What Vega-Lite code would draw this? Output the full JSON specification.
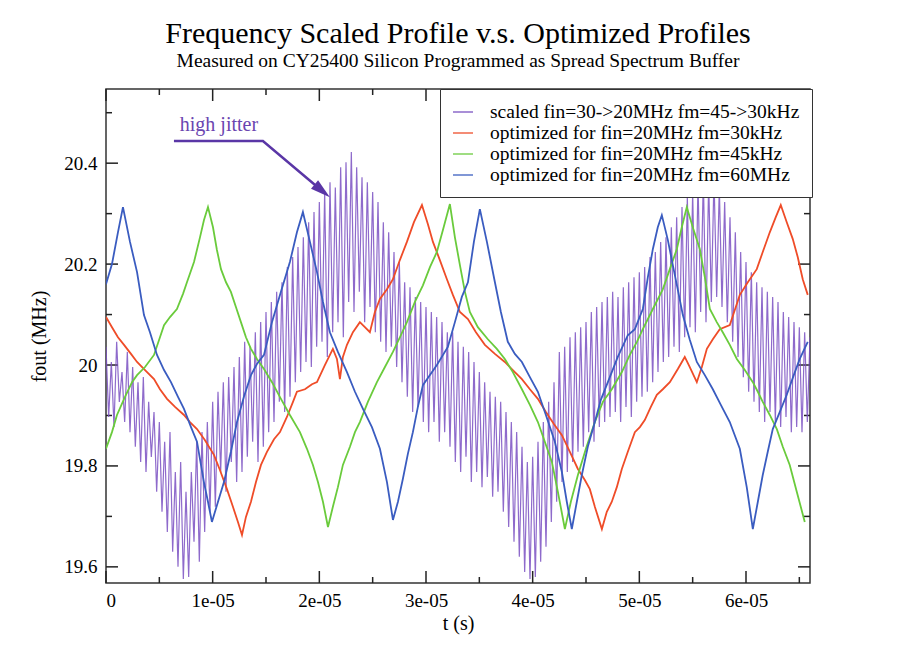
{
  "$schema": "https://vega.github.io/schema/vega-lite/v6.json",
  "width": 704,
  "height": 494,
  "autosize": {"type": "none"},
  "padding": {"left": 106, "top": 89, "right": 104, "bottom": 70},
  "background": "white",
  "title": {
    "text": "Frequency Scaled Profile v.s. Optimized Profiles",
    "subtitle": "Measured on CY25400 Silicon Programmed as Spread Spectrum Buffer",
    "font": "Liberation Serif", "fontSize": 30, "fontWeight": "normal", "color": "black",
    "subtitleFont": "Liberation Serif", "subtitleFontSize": 19.5, "subtitleColor": "black",
    "anchor": "middle", "frame": "group", "offset": 18, "subtitlePadding": 3
  },
  "config": {
    "view": {"stroke": "#333", "strokeWidth": 1.5},
    "axis": {
      "grid": false, "domain": false,
      "labelFont": "Liberation Serif", "titleFont": "Liberation Serif",
      "labelFontSize": 19, "titleFontSize": 20, "labelColor": "black", "titleColor": "black",
      "titleFontWeight": "normal"
    },
    "legend": {
      "orient": "none", "legendX": 334, "legendY": 0,
      "strokeColor": "#333", "fillColor": "white", "padding": 12,
      "symbolType": "stroke", "symbolSize": 400, "symbolStrokeWidth": 1.5,
      "labelFont": "Liberation Serif", "labelFontSize": 19.5, "labelColor": "black",
      "labelOffset": 16, "rowPadding": 0, "labelLimit": 400
    }
  },
  "datasets": {
    "scaled": [
      {"t":0,"f":20.036},{"t":0.025e-5,"f":19.897},{"t":0.05e-5,"f":20.006},{"t":0.075e-5,"f":19.877},{"t":0.1e-5,"f":20.046},{"t":0.125e-5,"f":19.927},{"t":0.15e-5,"f":19.986},{"t":0.175e-5,"f":19.887},{"t":0.2e-5,"f":20.026},{"t":0.225e-5,"f":19.867},
      {"t":0.25e-5,"f":19.996},{"t":0.275e-5,"f":19.838},{"t":0.3e-5,"f":19.966},{"t":0.325e-5,"f":19.808},{"t":0.35e-5,"f":19.976},{"t":0.375e-5,"f":19.788},{"t":0.4e-5,"f":19.927},{"t":0.425e-5,"f":19.818},{"t":0.45e-5,"f":19.907},{"t":0.475e-5,"f":19.749},
      {"t":0.5e-5,"f":19.887},{"t":0.525e-5,"f":19.709},{"t":0.55e-5,"f":19.848},{"t":0.575e-5,"f":19.669},{"t":0.6e-5,"f":19.867},{"t":0.625e-5,"f":19.630},{"t":0.65e-5,"f":19.788},{"t":0.675e-5,"f":19.600},{"t":0.7e-5,"f":19.808},{"t":0.725e-5,"f":19.576},
      {"t":0.75e-5,"f":19.749},{"t":0.775e-5,"f":19.580},{"t":0.8e-5,"f":19.788},{"t":0.825e-5,"f":19.650},{"t":0.85e-5,"f":19.848},{"t":0.875e-5,"f":19.610},{"t":0.9e-5,"f":19.867},{"t":0.925e-5,"f":19.669},{"t":0.95e-5,"f":19.887},{"t":0.975e-5,"f":19.709},
      {"t":1.0e-5,"f":19.927},{"t":1.025e-5,"f":19.719},{"t":1.05e-5,"f":19.947},{"t":1.075e-5,"f":19.788},{"t":1.1e-5,"f":19.966},{"t":1.125e-5,"f":19.749},{"t":1.15e-5,"f":19.976},{"t":1.175e-5,"f":19.808},{"t":1.2e-5,"f":19.996},{"t":1.225e-5,"f":19.768},
      {"t":1.25e-5,"f":20.016},{"t":1.275e-5,"f":19.788},{"t":1.3e-5,"f":20.046},{"t":1.325e-5,"f":19.818},{"t":1.35e-5,"f":20.036},{"t":1.375e-5,"f":19.848},{"t":1.4e-5,"f":20.065},{"t":1.425e-5,"f":19.808},{"t":1.45e-5,"f":20.085},{"t":1.475e-5,"f":19.838},
      {"t":1.5e-5,"f":20.105},{"t":1.525e-5,"f":19.867},{"t":1.55e-5,"f":20.125},{"t":1.575e-5,"f":19.887},{"t":1.6e-5,"f":20.145},{"t":1.625e-5,"f":19.927},{"t":1.65e-5,"f":20.164},{"t":1.675e-5,"f":19.907},{"t":1.7e-5,"f":20.194},{"t":1.725e-5,"f":19.937},
      {"t":1.75e-5,"f":20.214},{"t":1.775e-5,"f":19.966},{"t":1.8e-5,"f":20.234},{"t":1.825e-5,"f":19.986},{"t":1.85e-5,"f":20.253},{"t":1.875e-5,"f":20.006},{"t":1.9e-5,"f":20.283},{"t":1.925e-5,"f":19.996},{"t":1.95e-5,"f":20.303},{"t":1.975e-5,"f":20.036},
      {"t":2.0e-5,"f":20.323},{"t":2.025e-5,"f":20.046},{"t":2.05e-5,"f":20.343},{"t":2.075e-5,"f":20.016},{"t":2.1e-5,"f":20.362},{"t":2.125e-5,"f":20.065},{"t":2.15e-5,"f":20.352},{"t":2.175e-5,"f":20.085},{"t":2.2e-5,"f":20.392},{"t":2.225e-5,"f":20.055},
      {"t":2.25e-5,"f":20.402},{"t":2.275e-5,"f":20.125},{"t":2.3e-5,"f":20.422},{"t":2.325e-5,"f":20.105},{"t":2.35e-5,"f":20.392},{"t":2.375e-5,"f":20.145},{"t":2.4e-5,"f":20.372},{"t":2.425e-5,"f":20.085},{"t":2.45e-5,"f":20.362},{"t":2.475e-5,"f":20.115},
      {"t":2.5e-5,"f":20.343},{"t":2.525e-5,"f":20.065},{"t":2.55e-5,"f":20.323},{"t":2.575e-5,"f":20.046},{"t":2.6e-5,"f":20.283},{"t":2.625e-5,"f":20.026},{"t":2.65e-5,"f":20.263},{"t":2.675e-5,"f":20.036},{"t":2.7e-5,"f":20.224},{"t":2.725e-5,"f":19.996},
      {"t":2.75e-5,"f":20.204},{"t":2.775e-5,"f":19.966},{"t":2.8e-5,"f":20.164},{"t":2.825e-5,"f":19.937},{"t":2.85e-5,"f":20.154},{"t":2.875e-5,"f":19.907},{"t":2.9e-5,"f":20.135},{"t":2.925e-5,"f":19.917},{"t":2.95e-5,"f":20.125},{"t":2.975e-5,"f":19.887},
      {"t":3.0e-5,"f":20.115},{"t":3.025e-5,"f":19.867},{"t":3.05e-5,"f":20.105},{"t":3.075e-5,"f":19.887},{"t":3.1e-5,"f":20.095},{"t":3.125e-5,"f":19.848},{"t":3.15e-5,"f":20.085},{"t":3.175e-5,"f":19.867},{"t":3.2e-5,"f":20.065},{"t":3.225e-5,"f":19.838},
      {"t":3.25e-5,"f":20.065},{"t":3.275e-5,"f":19.808},{"t":3.3e-5,"f":20.046},{"t":3.325e-5,"f":19.788},{"t":3.35e-5,"f":20.036},{"t":3.375e-5,"f":19.818},{"t":3.4e-5,"f":20.026},{"t":3.425e-5,"f":19.768},{"t":3.45e-5,"f":20.006},{"t":3.475e-5,"f":19.788},
      {"t":3.5e-5,"f":19.986},{"t":3.525e-5,"f":19.758},{"t":3.55e-5,"f":19.966},{"t":3.575e-5,"f":19.778},{"t":3.6e-5,"f":19.947},{"t":3.625e-5,"f":19.739},{"t":3.65e-5,"f":19.937},{"t":3.675e-5,"f":19.749},{"t":3.7e-5,"f":19.927},{"t":3.725e-5,"f":19.709},
      {"t":3.75e-5,"f":19.907},{"t":3.775e-5,"f":19.679},{"t":3.8e-5,"f":19.887},{"t":3.825e-5,"f":19.650},{"t":3.85e-5,"f":19.867},{"t":3.875e-5,"f":19.620},{"t":3.9e-5,"f":19.838},{"t":3.925e-5,"f":19.590},{"t":3.95e-5,"f":19.808},{"t":3.975e-5,"f":19.576},
      {"t":4.0e-5,"f":19.818},{"t":4.025e-5,"f":19.580},{"t":4.05e-5,"f":19.848},{"t":4.075e-5,"f":19.610},{"t":4.1e-5,"f":19.887},{"t":4.125e-5,"f":19.640},{"t":4.15e-5,"f":19.927},{"t":4.175e-5,"f":19.689},{"t":4.2e-5,"f":19.966},{"t":4.225e-5,"f":19.729},
      {"t":4.25e-5,"f":20.026},{"t":4.275e-5,"f":19.768},{"t":4.3e-5,"f":20.036},{"t":4.325e-5,"f":19.788},{"t":4.35e-5,"f":20.055},{"t":4.375e-5,"f":19.808},{"t":4.4e-5,"f":20.065},{"t":4.425e-5,"f":19.828},{"t":4.45e-5,"f":20.075},{"t":4.475e-5,"f":19.838},
      {"t":4.5e-5,"f":20.085},{"t":4.525e-5,"f":19.867},{"t":4.55e-5,"f":20.105},{"t":4.575e-5,"f":19.848},{"t":4.6e-5,"f":20.115},{"t":4.625e-5,"f":19.877},{"t":4.65e-5,"f":20.125},{"t":4.675e-5,"f":19.887},{"t":4.7e-5,"f":20.135},{"t":4.725e-5,"f":19.897},
      {"t":4.75e-5,"f":20.145},{"t":4.775e-5,"f":19.907},{"t":4.8e-5,"f":20.135},{"t":4.825e-5,"f":19.887},{"t":4.85e-5,"f":20.154},{"t":4.875e-5,"f":19.917},{"t":4.9e-5,"f":20.164},{"t":4.925e-5,"f":19.897},{"t":4.95e-5,"f":20.174},{"t":4.975e-5,"f":19.927},
      {"t":5.0e-5,"f":20.184},{"t":5.025e-5,"f":19.937},{"t":5.05e-5,"f":20.194},{"t":5.075e-5,"f":19.947},{"t":5.1e-5,"f":20.214},{"t":5.125e-5,"f":19.966},{"t":5.15e-5,"f":20.224},{"t":5.175e-5,"f":19.986},{"t":5.2e-5,"f":20.244},{"t":5.225e-5,"f":20.006},
      {"t":5.25e-5,"f":20.253},{"t":5.275e-5,"f":20.016},{"t":5.3e-5,"f":20.273},{"t":5.325e-5,"f":20.036},{"t":5.35e-5,"f":20.293},{"t":5.375e-5,"f":20.026},{"t":5.4e-5,"f":20.313},{"t":5.425e-5,"f":20.055},{"t":5.45e-5,"f":20.333},{"t":5.475e-5,"f":20.075},
      {"t":5.5e-5,"f":20.343},{"t":5.525e-5,"f":20.065},{"t":5.55e-5,"f":20.362},{"t":5.575e-5,"f":20.105},{"t":5.6e-5,"f":20.372},{"t":5.625e-5,"f":20.085},{"t":5.65e-5,"f":20.362},{"t":5.675e-5,"f":20.125},{"t":5.7e-5,"f":20.372},{"t":5.725e-5,"f":20.135},
      {"t":5.75e-5,"f":20.352},{"t":5.775e-5,"f":20.115},{"t":5.8e-5,"f":20.323},{"t":5.825e-5,"f":20.085},{"t":5.85e-5,"f":20.293},{"t":5.875e-5,"f":20.046},{"t":5.9e-5,"f":20.263},{"t":5.925e-5,"f":20.016},{"t":5.95e-5,"f":20.224},{"t":5.975e-5,"f":19.976},
      {"t":6.0e-5,"f":20.204},{"t":6.025e-5,"f":19.947},{"t":6.05e-5,"f":20.184},{"t":6.075e-5,"f":19.927},{"t":6.1e-5,"f":20.164},{"t":6.125e-5,"f":19.907},{"t":6.15e-5,"f":20.154},{"t":6.175e-5,"f":19.887},{"t":6.2e-5,"f":20.145},{"t":6.225e-5,"f":19.907},
      {"t":6.25e-5,"f":20.135},{"t":6.275e-5,"f":19.887},{"t":6.3e-5,"f":20.125},{"t":6.325e-5,"f":19.877},{"t":6.35e-5,"f":20.105},{"t":6.375e-5,"f":19.897},{"t":6.4e-5,"f":20.095},{"t":6.425e-5,"f":19.867},{"t":6.45e-5,"f":20.085},{"t":6.475e-5,"f":19.877},
      {"t":6.5e-5,"f":20.075},{"t":6.525e-5,"f":19.867},{"t":6.55e-5,"f":20.065},{"t":6.575e-5,"f":19.887},{"t":6.6e-5,"f":20.055}
    ],
    "opt30": [
      {"t":0,"f":20.095},{"t":0.056e-5,"f":20.075},{"t":0.112e-5,"f":20.055},{"t":0.169e-5,"f":20.040},{"t":0.234e-5,"f":20.022},{"t":0.291e-5,"f":20.006},{"t":0.366e-5,"f":19.990},{"t":0.450e-5,"f":19.972},{"t":0.506e-5,"f":19.952},{"t":0.572e-5,"f":19.933},
      {"t":0.647e-5,"f":19.917},{"t":0.731e-5,"f":19.901},{"t":0.787e-5,"f":19.887},{"t":0.853e-5,"f":19.873},{"t":0.928e-5,"f":19.851},{"t":1.012e-5,"f":19.822},{"t":1.068e-5,"f":19.792},{"t":1.134e-5,"f":19.754},{"t":1.190e-5,"f":19.719},{"t":1.237e-5,"f":19.689},
      {"t":1.275e-5,"f":19.663},{"t":1.312e-5,"f":19.699},{"t":1.359e-5,"f":19.729},{"t":1.406e-5,"f":19.768},{"t":1.453e-5,"f":19.802},{"t":1.509e-5,"f":19.828},{"t":1.575e-5,"f":19.853},{"t":1.631e-5,"f":19.867},{"t":1.696e-5,"f":19.897},{"t":1.753e-5,"f":19.927},
      {"t":1.790e-5,"f":19.947},{"t":1.865e-5,"f":19.952},{"t":1.931e-5,"f":19.962},{"t":1.978e-5,"f":19.966},{"t":2.052e-5,"f":20.000},{"t":2.127e-5,"f":20.032},{"t":2.165e-5,"f":20.012},{"t":2.193e-5,"f":19.972},{"t":2.221e-5,"f":20.016},{"t":2.259e-5,"f":20.040},
      {"t":2.315e-5,"f":20.065},{"t":2.380e-5,"f":20.085},{"t":2.427e-5,"f":20.075},{"t":2.474e-5,"f":20.065},{"t":2.521e-5,"f":20.105},{"t":2.568e-5,"f":20.131},{"t":2.634e-5,"f":20.150},{"t":2.690e-5,"f":20.170},{"t":2.755e-5,"f":20.208},{"t":2.821e-5,"f":20.244},
      {"t":2.887e-5,"f":20.283},{"t":2.962e-5,"f":20.317},{"t":3.018e-5,"f":20.279},{"t":3.065e-5,"f":20.244},{"t":3.130e-5,"f":20.208},{"t":3.196e-5,"f":20.170},{"t":3.252e-5,"f":20.139},{"t":3.318e-5,"f":20.105},{"t":3.393e-5,"f":20.091},{"t":3.468e-5,"f":20.065},
      {"t":3.552e-5,"f":20.040},{"t":3.646e-5,"f":20.022},{"t":3.739e-5,"f":20.006},{"t":3.814e-5,"f":19.990},{"t":3.899e-5,"f":19.972},{"t":3.974e-5,"f":19.952},{"t":4.049e-5,"f":19.933},{"t":4.124e-5,"f":19.907},{"t":4.199e-5,"f":19.883},{"t":4.274e-5,"f":19.861},
      {"t":4.349e-5,"f":19.828},{"t":4.424e-5,"f":19.794},{"t":4.489e-5,"f":19.772},{"t":4.536e-5,"f":19.754},{"t":4.583e-5,"f":19.719},{"t":4.649e-5,"f":19.675},{"t":4.695e-5,"f":19.709},{"t":4.742e-5,"f":19.729},{"t":4.789e-5,"f":19.758},{"t":4.836e-5,"f":19.794},
      {"t":4.892e-5,"f":19.828},{"t":4.958e-5,"f":19.867},{"t":5.005e-5,"f":19.877},{"t":5.051e-5,"f":19.891},{"t":5.108e-5,"f":19.917},{"t":5.164e-5,"f":19.941},{"t":5.220e-5,"f":19.952},{"t":5.286e-5,"f":19.966},{"t":5.361e-5,"f":19.992},{"t":5.426e-5,"f":20.016},
      {"t":5.473e-5,"f":19.996},{"t":5.539e-5,"f":19.966},{"t":5.586e-5,"f":19.996},{"t":5.633e-5,"f":20.032},{"t":5.689e-5,"f":20.051},{"t":5.754e-5,"f":20.071},{"t":5.848e-5,"f":20.079},{"t":5.895e-5,"f":20.109},{"t":5.942e-5,"f":20.139},{"t":6.017e-5,"f":20.164},
      {"t":6.101e-5,"f":20.190},{"t":6.157e-5,"f":20.224},{"t":6.223e-5,"f":20.263},{"t":6.279e-5,"f":20.293},{"t":6.326e-5,"f":20.317},{"t":6.382e-5,"f":20.283},{"t":6.438e-5,"f":20.250},{"t":6.485e-5,"f":20.214},{"t":6.532e-5,"f":20.170},{"t":6.579e-5,"f":20.139}
    ],
    "opt45": [
      {"t":0,"f":19.834},{"t":0.056e-5,"f":19.867},{"t":0.103e-5,"f":19.901},{"t":0.178e-5,"f":19.937},{"t":0.244e-5,"f":19.966},{"t":0.291e-5,"f":19.980},{"t":0.366e-5,"f":19.996},{"t":0.450e-5,"f":20.020},{"t":0.506e-5,"f":20.055},{"t":0.544e-5,"f":20.079},
      {"t":0.600e-5,"f":20.095},{"t":0.665e-5,"f":20.111},{"t":0.722e-5,"f":20.141},{"t":0.759e-5,"f":20.164},{"t":0.825e-5,"f":20.204},{"t":0.881e-5,"f":20.253},{"t":0.918e-5,"f":20.287},{"t":0.956e-5,"f":20.313},{"t":1.003e-5,"f":20.273},{"t":1.040e-5,"f":20.228},
      {"t":1.078e-5,"f":20.190},{"t":1.125e-5,"f":20.164},{"t":1.171e-5,"f":20.145},{"t":1.218e-5,"f":20.115},{"t":1.265e-5,"f":20.085},{"t":1.312e-5,"f":20.055},{"t":1.359e-5,"f":20.032},{"t":1.415e-5,"f":20.012},{"t":1.481e-5,"f":19.992},{"t":1.556e-5,"f":19.966},
      {"t":1.640e-5,"f":19.933},{"t":1.724e-5,"f":19.901},{"t":1.818e-5,"f":19.867},{"t":1.884e-5,"f":19.834},{"t":1.940e-5,"f":19.802},{"t":1.987e-5,"f":19.768},{"t":2.034e-5,"f":19.729},{"t":2.081e-5,"f":19.679},{"t":2.127e-5,"f":19.719},{"t":2.174e-5,"f":19.758},
      {"t":2.221e-5,"f":19.802},{"t":2.287e-5,"f":19.838},{"t":2.334e-5,"f":19.867},{"t":2.380e-5,"f":19.887},{"t":2.455e-5,"f":19.927},{"t":2.540e-5,"f":19.966},{"t":2.615e-5,"f":19.996},{"t":2.690e-5,"f":20.026},{"t":2.755e-5,"f":20.055},{"t":2.821e-5,"f":20.085},
      {"t":2.896e-5,"f":20.125},{"t":2.971e-5,"f":20.158},{"t":3.037e-5,"f":20.194},{"t":3.102e-5,"f":20.224},{"t":3.158e-5,"f":20.267},{"t":3.224e-5,"f":20.319},{"t":3.271e-5,"f":20.253},{"t":3.318e-5,"f":20.198},{"t":3.365e-5,"f":20.145},{"t":3.411e-5,"f":20.105},
      {"t":3.486e-5,"f":20.075},{"t":3.580e-5,"f":20.051},{"t":3.664e-5,"f":20.032},{"t":3.739e-5,"f":20.012},{"t":3.814e-5,"f":19.986},{"t":3.899e-5,"f":19.952},{"t":3.974e-5,"f":19.921},{"t":4.049e-5,"f":19.887},{"t":4.114e-5,"f":19.848},{"t":4.180e-5,"f":19.808},
      {"t":4.236e-5,"f":19.749},{"t":4.302e-5,"f":19.675},{"t":4.358e-5,"f":19.729},{"t":4.424e-5,"f":19.782},{"t":4.499e-5,"f":19.834},{"t":4.583e-5,"f":19.887},{"t":4.658e-5,"f":19.927},{"t":4.742e-5,"f":19.952},{"t":4.836e-5,"f":19.986},{"t":4.911e-5,"f":20.020},
      {"t":4.977e-5,"f":20.046},{"t":5.033e-5,"f":20.071},{"t":5.127e-5,"f":20.111},{"t":5.220e-5,"f":20.150},{"t":5.286e-5,"f":20.190},{"t":5.352e-5,"f":20.230},{"t":5.398e-5,"f":20.273},{"t":5.445e-5,"f":20.313},{"t":5.501e-5,"f":20.273},{"t":5.567e-5,"f":20.230},
      {"t":5.614e-5,"f":20.174},{"t":5.661e-5,"f":20.111},{"t":5.726e-5,"f":20.085},{"t":5.782e-5,"f":20.065},{"t":5.848e-5,"f":20.040},{"t":5.914e-5,"f":20.012},{"t":5.989e-5,"f":19.990},{"t":6.064e-5,"f":19.966},{"t":6.111e-5,"f":19.947},{"t":6.157e-5,"f":19.927},
      {"t":6.223e-5,"f":19.901},{"t":6.289e-5,"f":19.873},{"t":6.345e-5,"f":19.838},{"t":6.410e-5,"f":19.802},{"t":6.476e-5,"f":19.749},{"t":6.551e-5,"f":19.689}
    ],
    "opt60": [
      {"t":0,"f":20.160},{"t":0.056e-5,"f":20.200},{"t":0.112e-5,"f":20.263},{"t":0.159e-5,"f":20.313},{"t":0.225e-5,"f":20.244},{"t":0.291e-5,"f":20.184},{"t":0.356e-5,"f":20.099},{"t":0.412e-5,"f":20.065},{"t":0.478e-5,"f":20.020},{"t":0.544e-5,"f":19.990},
      {"t":0.609e-5,"f":19.966},{"t":0.675e-5,"f":19.937},{"t":0.731e-5,"f":19.913},{"t":0.797e-5,"f":19.877},{"t":0.853e-5,"f":19.848},{"t":0.918e-5,"f":19.768},{"t":0.956e-5,"f":19.729},{"t":0.993e-5,"f":19.689},{"t":1.050e-5,"f":19.729},{"t":1.106e-5,"f":19.768},
      {"t":1.171e-5,"f":19.828},{"t":1.228e-5,"f":19.887},{"t":1.293e-5,"f":19.937},{"t":1.359e-5,"f":19.980},{"t":1.415e-5,"f":20.002},{"t":1.481e-5,"f":20.020},{"t":1.556e-5,"f":20.085},{"t":1.640e-5,"f":20.145},{"t":1.724e-5,"f":20.204},{"t":1.790e-5,"f":20.263},
      {"t":1.846e-5,"f":20.303},{"t":1.912e-5,"f":20.244},{"t":1.978e-5,"f":20.184},{"t":2.034e-5,"f":20.125},{"t":2.099e-5,"f":20.065},{"t":2.174e-5,"f":20.026},{"t":2.259e-5,"f":19.986},{"t":2.334e-5,"f":19.947},{"t":2.409e-5,"f":19.913},{"t":2.493e-5,"f":19.877},
      {"t":2.568e-5,"f":19.834},{"t":2.634e-5,"f":19.768},{"t":2.690e-5,"f":19.693},{"t":2.737e-5,"f":19.729},{"t":2.783e-5,"f":19.774},{"t":2.830e-5,"f":19.824},{"t":2.877e-5,"f":19.867},{"t":2.924e-5,"f":19.917},{"t":2.971e-5,"f":19.960},{"t":3.037e-5,"f":19.980},
      {"t":3.102e-5,"f":20.000},{"t":3.205e-5,"f":20.036},{"t":3.271e-5,"f":20.085},{"t":3.336e-5,"f":20.135},{"t":3.393e-5,"f":20.164},{"t":3.449e-5,"f":20.244},{"t":3.505e-5,"f":20.309},{"t":3.571e-5,"f":20.244},{"t":3.646e-5,"f":20.164},{"t":3.702e-5,"f":20.105},
      {"t":3.767e-5,"f":20.046},{"t":3.833e-5,"f":20.022},{"t":3.899e-5,"f":20.006},{"t":3.974e-5,"f":19.976},{"t":4.049e-5,"f":19.947},{"t":4.124e-5,"f":19.901},{"t":4.208e-5,"f":19.848},{"t":4.274e-5,"f":19.788},{"t":4.320e-5,"f":19.729},{"t":4.367e-5,"f":19.675},
      {"t":4.414e-5,"f":19.729},{"t":4.461e-5,"f":19.782},{"t":4.517e-5,"f":19.838},{"t":4.583e-5,"f":19.887},{"t":4.639e-5,"f":19.931},{"t":4.705e-5,"f":19.966},{"t":4.798e-5,"f":20.016},{"t":4.892e-5,"f":20.059},{"t":4.958e-5,"f":20.071},{"t":5.033e-5,"f":20.111},
      {"t":5.080e-5,"f":20.174},{"t":5.127e-5,"f":20.230},{"t":5.173e-5,"f":20.273},{"t":5.211e-5,"f":20.297},{"t":5.267e-5,"f":20.248},{"t":5.314e-5,"f":20.198},{"t":5.361e-5,"f":20.149},{"t":5.408e-5,"f":20.099},{"t":5.473e-5,"f":20.050},{"t":5.539e-5,"f":20.006},
      {"t":5.614e-5,"f":19.980},{"t":5.689e-5,"f":19.952},{"t":5.764e-5,"f":19.921},{"t":5.848e-5,"f":19.887},{"t":5.942e-5,"f":19.834},{"t":6.007e-5,"f":19.758},{"t":6.064e-5,"f":19.675},{"t":6.111e-5,"f":19.729},{"t":6.157e-5,"f":19.782},{"t":6.204e-5,"f":19.828},
      {"t":6.251e-5,"f":19.873},{"t":6.317e-5,"f":19.907},{"t":6.382e-5,"f":19.941},{"t":6.448e-5,"f":19.980},{"t":6.504e-5,"f":20.012},{"t":6.579e-5,"f":20.046}
    ],
    "xmajor": [{"v":0},{"v":0.00001},{"v":0.00002},{"v":0.00003},{"v":0.00004},{"v":0.00005},{"v":0.00006}],
    "xminor": [{"v":0.000005},{"v":0.000015},{"v":0.000025},{"v":0.000035},{"v":0.000045},{"v":0.000055},{"v":0.000065}],
    "ymajor": [{"v":19.6},{"v":19.8},{"v":20.0},{"v":20.2},{"v":20.4}],
    "yminor": [{"v":19.7},{"v":19.9},{"v":20.1},{"v":20.3},{"v":20.5}],
    "arrow": [
      {"t":0.637e-5,"f":20.444},{"t":1.471e-5,"f":20.444},{"t":2.027e-5,"f":20.345}
    ],
    "arrowhead": [{"t":2.027e-5,"f":20.345}],
    "note": [{"t":1.059e-5,"f":20.463,"label":"high jitter"}]
  },
  "layer": [
    {
      "data": {"name": "xmajor"},
      "mark": {"type": "tick", "orient": "vertical", "color": "#222", "thickness": 1.5, "size": 12, "opacity": 1},
      "encoding": {
        "x": {"field": "v", "type": "quantitative",
          "scale": {"domain": [0, 0.000066], "nice": false, "zero": false},
          "axis": {"orient": "bottom", "values": [0, 0.00001, 0.00002, 0.00003, 0.00004, 0.00005, 0.00006],
            "labelExpr": "datum.value == 0 ? '0' : round(datum.value * 100000) + 'e-05'",
            "ticks": false, "labelPadding": 8, "title": "t (s)", "titlePadding": 3}},
        "y": {"datum": 19.5799, "type": "quantitative",
          "scale": {"domain": [19.568, 20.547], "nice": false, "zero": false},
          "axis": {"orient": "left", "values": [19.6, 19.8, 20, 20.2, 20.4], "format": "~g",
            "ticks": false, "labelPadding": 9, "title": "fout (MHz)", "titlePadding": 14}}
      }
    },
    {
      "data": {"name": "xmajor"},
      "mark": {"type": "tick", "orient": "vertical", "color": "#222", "thickness": 1.5, "size": 12, "opacity": 1},
      "encoding": {
        "x": {"field": "v", "type": "quantitative"},
        "y": {"datum": 20.5351, "type": "quantitative"}
      }
    },
    {
      "data": {"name": "xminor"},
      "mark": {"type": "tick", "orient": "vertical", "color": "#222", "thickness": 1.5, "size": 6, "opacity": 1},
      "encoding": {
        "x": {"field": "v", "type": "quantitative"},
        "y": {"datum": 19.5739, "type": "quantitative"}
      }
    },
    {
      "data": {"name": "xminor"},
      "mark": {"type": "tick", "orient": "vertical", "color": "#222", "thickness": 1.5, "size": 6, "opacity": 1},
      "encoding": {
        "x": {"field": "v", "type": "quantitative"},
        "y": {"datum": 20.5411, "type": "quantitative"}
      }
    },
    {
      "data": {"name": "ymajor"},
      "mark": {"type": "tick", "orient": "horizontal", "color": "#222", "thickness": 1.5, "size": 12, "opacity": 1},
      "encoding": {
        "y": {"field": "v", "type": "quantitative"},
        "x": {"datum": 0.000000562, "type": "quantitative"}
      }
    },
    {
      "data": {"name": "ymajor"},
      "mark": {"type": "tick", "orient": "horizontal", "color": "#222", "thickness": 1.5, "size": 12, "opacity": 1},
      "encoding": {
        "y": {"field": "v", "type": "quantitative"},
        "x": {"datum": 0.000065438, "type": "quantitative"}
      }
    },
    {
      "data": {"name": "yminor"},
      "mark": {"type": "tick", "orient": "horizontal", "color": "#222", "thickness": 1.5, "size": 6, "opacity": 1},
      "encoding": {
        "y": {"field": "v", "type": "quantitative"},
        "x": {"datum": 0.000000281, "type": "quantitative"}
      }
    },
    {
      "data": {"name": "yminor"},
      "mark": {"type": "tick", "orient": "horizontal", "color": "#222", "thickness": 1.5, "size": 6, "opacity": 1},
      "encoding": {
        "y": {"field": "v", "type": "quantitative"},
        "x": {"datum": 0.000065719, "type": "quantitative"}
      }
    },
    {
      "data": {"name": "scaled"},
      "mark": {"type": "line", "strokeWidth": 1.2, "opacity": 0.85, "clip": true},
      "encoding": {
        "x": {"field": "t", "type": "quantitative"},
        "y": {"field": "f", "type": "quantitative"},
        "color": {"datum": "scaled fin=30->20MHz fm=45->30kHz", "type": "nominal",
          "scale": {"domain": ["scaled fin=30->20MHz fm=45->30kHz", "optimized for fin=20MHz fm=30kHz", "optimized for fin=20MHz fm=45kHz", "optimized for fin=20MHz fm=60MHz"],
            "range": ["#7a50c2", "#ef4c28", "#6acb3c", "#3a5cc0"]},
          "legend": {"title": null}}
      }
    },
    {
      "data": {"name": "opt30"},
      "mark": {"type": "line", "strokeWidth": 1.8, "clip": true},
      "encoding": {
        "x": {"field": "t", "type": "quantitative"},
        "y": {"field": "f", "type": "quantitative"},
        "color": {"datum": "optimized for fin=20MHz fm=30kHz", "type": "nominal"}
      }
    },
    {
      "data": {"name": "opt45"},
      "mark": {"type": "line", "strokeWidth": 1.8, "clip": true},
      "encoding": {
        "x": {"field": "t", "type": "quantitative"},
        "y": {"field": "f", "type": "quantitative"},
        "color": {"datum": "optimized for fin=20MHz fm=45kHz", "type": "nominal"}
      }
    },
    {
      "data": {"name": "opt60"},
      "mark": {"type": "line", "strokeWidth": 1.8, "clip": true},
      "encoding": {
        "x": {"field": "t", "type": "quantitative"},
        "y": {"field": "f", "type": "quantitative"},
        "color": {"datum": "optimized for fin=20MHz fm=60MHz", "type": "nominal"}
      }
    },
    {
      "data": {"name": "arrow"},
      "mark": {"type": "line", "color": "#5a36a6", "strokeWidth": 2.5},
      "encoding": {
        "x": {"field": "t", "type": "quantitative"},
        "y": {"field": "f", "type": "quantitative"}
      }
    },
    {
      "data": {"name": "arrowhead"},
      "mark": {"type": "point", "shape": "M0,-1L0.55,1L-0.55,1Z", "size": 400, "angle": 130, "filled": true, "color": "#5a36a6", "opacity": 1},
      "encoding": {
        "x": {"field": "t", "type": "quantitative"},
        "y": {"field": "f", "type": "quantitative"}
      }
    },
    {
      "data": {"name": "note"},
      "mark": {"type": "text", "font": "Liberation Serif", "fontSize": 20, "color": "#6a45b0", "align": "center", "baseline": "alphabetic"},
      "encoding": {
        "x": {"field": "t", "type": "quantitative"},
        "y": {"field": "f", "type": "quantitative"},
        "text": {"field": "label"}
      }
    }
  ]
}
